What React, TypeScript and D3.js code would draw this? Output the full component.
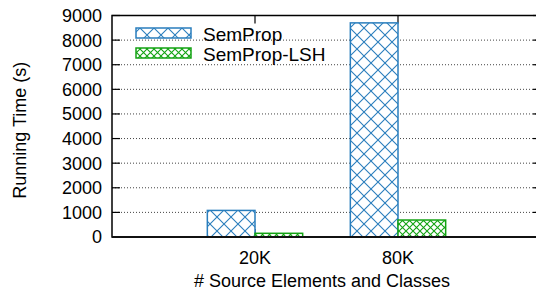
import { useEffect, useRef } from 'react';
import * as d3 from 'd3';

const categories = ['20K', '80K'];
const semProp = [1080, 8700];
const semPropLSH = [150, 690];
const yTicks = [0, 1000, 2000, 3000, 4000, 5000, 6000, 7000, 8000, 9000];
const seriesNames = ['SemProp', 'SemProp-LSH'];

const BLUE = '#2a7ebd';
const GREEN = '#13a313';
const FONT = '"Liberation Sans", Arial, sans-serif';

export default function App() {
  const svgRef = useRef<SVGSVGElement>(null);

  useEffect(() => {
    const svg = d3.select(svgRef.current);
    svg.selectAll('*').remove();

    const left = 112, right = 541, top = 15.5, bottom = 237;

    const x = d3.scaleLinear().domain([-1, 2]).range([left, right]);
    const y = d3.scaleLinear().domain([0, 9000]).range([bottom, top]);
    const bw = x(1 / 3) - x(0);

    // hatch patterns
    const defs = svg.append('defs');
    const hatch = (id: string, size: number, color: string, w: number) => {
      const p = defs.append('pattern')
        .attr('id', id)
        .attr('patternUnits', 'userSpaceOnUse')
        .attr('width', size)
        .attr('height', size);
      p.append('rect').attr('width', size).attr('height', size).attr('fill', '#fff');
      p.append('path')
        .attr('d', `M0,0L${size},${size}M${size},0L0,${size}`)
        .attr('stroke', color)
        .attr('stroke-width', w)
        .attr('fill', 'none');
    };
    hatch('hatchBlue', 14, BLUE, 1.1);
    hatch('hatchGreen', 7, GREEN, 1.1);

    const g = svg.append('g');

    // grid
    g.selectAll('.grid')
      .data(yTicks.filter(t => t > 0 && t < 9000))
      .enter().append('line')
      .attr('x1', left).attr('x2', right)
      .attr('y1', d => y(d)).attr('y2', d => y(d))
      .attr('stroke', '#444')
      .attr('stroke-width', 1)
      .attr('stroke-dasharray', '1,2');

    // ticks
    yTicks.forEach(t => {
      g.append('line').attr('x1', left).attr('x2', left + 8)
        .attr('y1', y(t)).attr('y2', y(t)).attr('stroke', '#000').attr('stroke-width', 1.2);
      g.append('line').attr('x1', right - 8).attr('x2', right)
        .attr('y1', y(t)).attr('y2', y(t)).attr('stroke', '#000').attr('stroke-width', 1.2);
    });
    categories.forEach((_, i) => {
      g.append('line').attr('x1', x(i)).attr('x2', x(i))
        .attr('y1', top).attr('y2', top + 8).attr('stroke', '#000').attr('stroke-width', 1.2);
      g.append('line').attr('x1', x(i)).attr('x2', x(i))
        .attr('y1', bottom).attr('y2', bottom - 8).attr('stroke', '#000').attr('stroke-width', 1.2);
    });

    // bars
    const series = [
      { values: semProp, offset: -1 / 3, fill: 'url(#hatchBlue)', color: BLUE },
      { values: semPropLSH, offset: 0, fill: 'url(#hatchGreen)', color: GREEN },
    ];
    series.forEach(s => {
      g.selectAll(null)
        .data(s.values)
        .enter().append('rect')
        .attr('x', (d, i) => x(i + s.offset))
        .attr('y', d => y(d))
        .attr('width', bw)
        .attr('height', d => bottom - y(d))
        .attr('fill', s.fill)
        .attr('stroke', s.color)
        .attr('stroke-width', 1.5);
    });

    // frame
    g.append('rect')
      .attr('x', left).attr('y', top)
      .attr('width', right - left).attr('height', bottom - top)
      .attr('fill', 'none').attr('stroke', '#000').attr('stroke-width', 1.5);
    g.append('line').attr('x1', left).attr('x2', right)
      .attr('y1', bottom).attr('y2', bottom).attr('stroke', '#111').attr('stroke-width', 2);

    // tick labels
    g.selectAll('.ylab')
      .data(yTicks)
      .enter().append('text')
      .attr('x', 102)
      .attr('y', d => y(d))
      .attr('dy', '0.36em')
      .attr('text-anchor', 'end')
      .attr('font-family', FONT)
      .attr('font-size', 18)
      .text(d => d);

    g.selectAll('.xlab')
      .data(categories)
      .enter().append('text')
      .attr('x', (d, i) => x(i))
      .attr('y', 264)
      .attr('text-anchor', 'middle')
      .attr('font-family', FONT)
      .attr('font-size', 18)
      .text(d => d);

    // axis titles
    g.append('text')
      .attr('transform', `translate(26,${(top + bottom) / 2 + 4}) rotate(-90)`)
      .attr('text-anchor', 'middle')
      .attr('font-family', FONT)
      .attr('font-size', 18)
      .text('Running Time (s)');
    g.append('text')
      .attr('x', 322)
      .attr('y', 287)
      .attr('text-anchor', 'middle')
      .attr('font-family', FONT)
      .attr('font-size', 18)
      .text('# Source Elements and Classes');

    // legend
    const legend = g.append('g');
    seriesNames.forEach((name, i) => {
      const yy = 28 + i * 20;
      legend.append('rect')
        .attr('x', 136).attr('y', yy)
        .attr('width', 55).attr('height', 10)
        .attr('fill', series[i].fill)
        .attr('stroke', series[i].color)
        .attr('stroke-width', 1.5);
      legend.append('text')
        .attr('x', 203).attr('y', yy + 12.5)
        .attr('font-family', FONT)
        .attr('font-size', 19)
        .text(name);
    });
  }, []);

  return (
    <svg ref={svgRef} width={536} height={292}
      style={{ position: 'absolute', left: 0, top: 0, background: '#fff' }} />
  );
}
